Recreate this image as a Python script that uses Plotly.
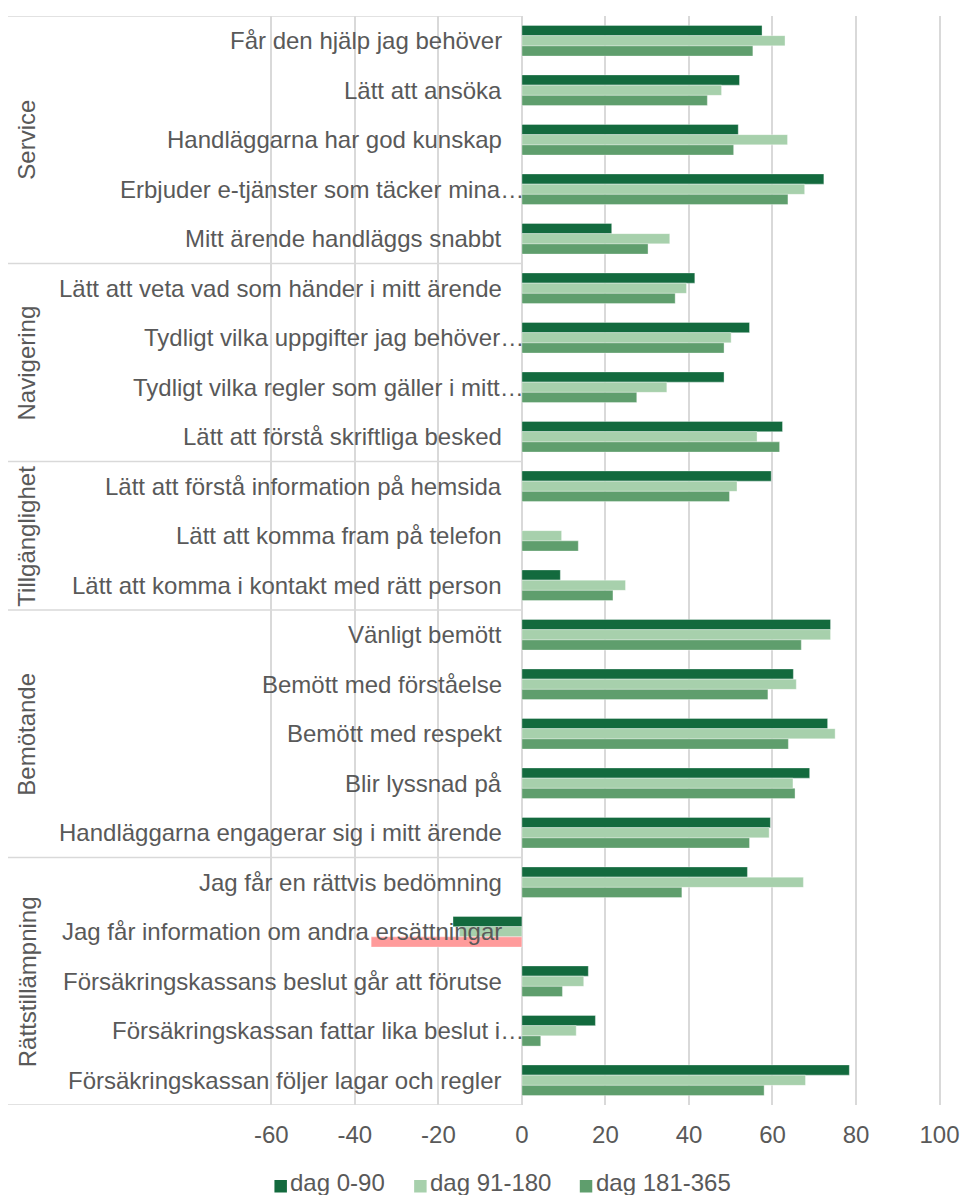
import plotly.graph_objects as go

# Survey statements, grouped by theme (top to bottom)
categories = [
    "Får den hjälp jag behöver",
    "Lätt att ansöka",
    "Handläggarna har god kunskap",
    "Erbjuder e-tjänster som täcker mina…",
    "Mitt ärende handläggs snabbt",
    "Lätt att veta vad som händer i mitt ärende",
    "Tydligt vilka uppgifter jag behöver…",
    "Tydligt vilka regler som gäller i mitt…",
    "Lätt att förstå skriftliga besked",
    "Lätt att förstå information på hemsida",
    "Lätt att komma fram på telefon",
    "Lätt att komma i kontakt med rätt person",
    "Vänligt bemött",
    "Bemött med förståelse",
    "Bemött med respekt",
    "Blir lyssnad på",
    "Handläggarna engagerar sig i mitt ärende",
    "Jag får en rättvis bedömning",
    "Jag får information om andra ersättningar",
    "Försäkringskassans beslut går att förutse",
    "Försäkringskassan fattar lika beslut i…",
    "Försäkringskassan följer lagar och regler",
]

group_names = ["Service", "Navigering", "Tillgänglighet", "Bemötande", "Rättstillämpning"]
group_sizes = [5, 4, 3, 5, 5]

series_names = ["dag 0-90", "dag 91-180", "dag 181-365"]
dag_0_90 = [57.5, 52.1, 51.8, 72.3, 21.5, 41.4, 54.5, 48.4, 62.4, 59.7, None, 9.2,
            73.9, 65.0, 73.2, 68.9, 59.5, 54.0, -16.5, 15.9, 17.6, 78.4]
dag_91_180 = [63.0, 47.8, 63.6, 67.7, 35.4, 39.4, 50.1, 34.7, 56.3, 51.5, 9.5, 24.8,
              73.9, 65.7, 75.0, 64.9, 59.2, 67.4, -15.0, 14.8, 13.0, 67.9]
dag_181_365 = [55.3, 44.4, 50.7, 63.7, 30.2, 36.7, 48.4, 27.5, 61.7, 49.7, 13.5, 21.8,
               66.9, 58.9, 63.8, 65.4, 54.5, 38.3, -36.1, 9.7, 4.5, 58.0]

x_ticks = [-60, -40, -20, 0, 20, 40, 60, 80, 100]

# Styling
DARK = "#136A3E"
LIGHT = "#A7D0AC"
MID = "#5F9E6D"
NEG = "#FF9B9B"
TEXT = "#595959"
GRID = "#D9D9D9"
FONT = "Liberation Sans, Arial, sans-serif"

W, H = 964, 1196
ML, MR, MT, MB = 8, 4, 16, 91
PW = W - ML - MR
PH = H - MT - MB
X0_PX = 523          # pixel position of value 0
PX_PER_UNIT = 4.185
x_min = -(X0_PX - ML) / PX_PER_UNIT
x_max = (W - MR - X0_PX) / PX_PER_UNIT


def px_x(px):
    return (px - ML) / PW


def px_y(py):
    return (H - MB - py) / PH


def fill_colors(values, base):
    return [NEG if (v is not None and v < 0) else base for v in values]


fig = go.Figure()
for name, vals, col in [
    (series_names[0], dag_0_90, DARK),
    (series_names[1], dag_91_180, LIGHT),
    (series_names[2], dag_181_365, MID),
]:
    colors = fill_colors(vals, col) if name == series_names[2] else col
    fig.add_trace(go.Bar(
        y=categories, x=vals, orientation="h", name=name,
        marker=dict(color=colors, line=dict(color="rgba(255,255,255,0.45)", width=0.8)),
        showlegend=False,
    ))

n = len(categories)
fig.update_layout(
    width=W, height=H,
    margin=dict(l=ML, r=MR, t=MT, b=MB),
    paper_bgcolor="white", plot_bgcolor="white",
    barmode="group", bargap=0.38, bargroupgap=0.0,
    font=dict(family=FONT, size=24, color=TEXT),
    xaxis=dict(
        range=[x_min, x_max], tickvals=x_ticks, ticktext=[str(v) for v in x_ticks],
        showgrid=True, gridcolor=GRID, gridwidth=1.5,
        zeroline=True, zerolinecolor=GRID, zerolinewidth=1.5,
        showline=False, ticks="", tickfont=dict(size=24, color=TEXT),
        ticklabelstandoff=13,
    ),
    yaxis=dict(
        type="category", categoryorder="array", categoryarray=categories,
        range=[n - 0.5, -0.5], showticklabels=False, showgrid=False,
        zeroline=False, showline=False, ticks="",
    ),
)

# Statement labels, right-aligned next to the zero line
for cat in categories:
    shift = 4 if cat.endswith("…") else -18
    fig.add_annotation(
        x=0, y=cat, xref="x", yref="y", text=cat, showarrow=False,
        xanchor="right", yanchor="middle", xshift=shift,
        font=dict(family=FONT, size=24, color=TEXT),
    )

# Theme boundaries and rotated theme labels
bounds = [-0.5]
for s in group_sizes:
    bounds.append(bounds[-1] + s)
for b in bounds:
    fig.add_shape(type="line", xref="x", yref="y", x0=x_min, x1=0, y0=b, y1=b,
                  line=dict(color=GRID, width=1.5))
for g, (lo, hi) in zip(group_names, zip(bounds[:-1], bounds[1:])):
    fig.add_annotation(
        x=px_x(27), y=(lo + hi) / 2, xref="paper", yref="y", text=g,
        showarrow=False, textangle=-90, xanchor="center", yanchor="middle",
        font=dict(family=FONT, size=24, color=TEXT),
    )

# Legend row
legend_items = [(series_names[0], DARK, 275), (series_names[1], LIGHT, 415), (series_names[2], MID, 581)]
for name, col, left in legend_items:
    fig.add_shape(type="rect", xref="paper", yref="paper",
                  x0=px_x(left), x1=px_x(left + 12.5), y0=px_y(1192.5), y1=px_y(1180),
                  fillcolor=col, line=dict(width=0))
    fig.add_annotation(
        x=px_x(left + 15), y=px_y(1182), xref="paper", yref="paper", text=name,
        showarrow=False, xanchor="left", yanchor="middle", height=26, borderpad=0,
        font=dict(family=FONT, size=24, color=TEXT),
    )

fig.write_html("out.html")
